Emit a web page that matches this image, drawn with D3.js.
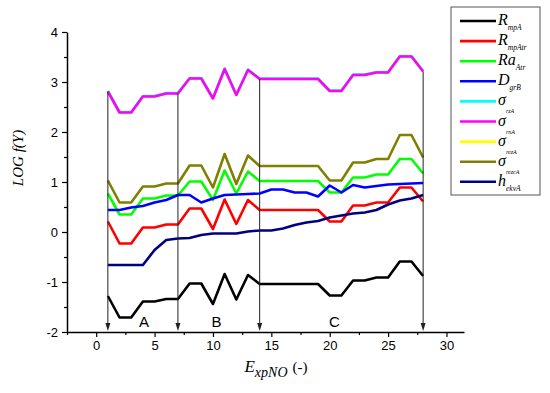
<!DOCTYPE html>
<html>
<head>
<meta charset="utf-8">
<script src="https://cdn.jsdelivr.net/npm/d3@7"></script>
<style>
  body { margin: 0; background: #fff; }
  svg { display: block; }
</style>
</head>
<body>
<div id="graph"></div>
<script>
// experiment number on the x axis
const xs = [1, 2, 3, 4, 5, 6, 7, 8, 9, 10, 11, 12, 13, 14, 15, 16, 17, 18, 19, 20, 21, 22, 23, 24, 25, 26, 27, 28];

// LOG f(Y) values
const rmpA   = [-1.28, -1.71, -1.71, -1.39, -1.39, -1.34, -1.34, -1.03, -1.03, -1.44, -0.84, -1.35, -0.86, -1.04, -1.04, -1.04, -1.04, -1.04, -1.04, -1.27, -1.27, -0.97, -0.97, -0.91, -0.91, -0.59, -0.59, -0.88];
const rmpAtr = [0.21, -0.23, -0.23, 0.09, 0.09, 0.15, 0.15, 0.47, 0.47, 0.06, 0.65, 0.16, 0.64, 0.44, 0.44, 0.44, 0.44, 0.44, 0.44, 0.21, 0.21, 0.53, 0.53, 0.59, 0.59, 0.89, 0.89, 0.61];
const raAtr  = [0.77, 0.35, 0.35, 0.67, 0.67, 0.73, 0.73, 1.01, 1.01, 0.64, 1.23, 0.77, 1.21, 1.02, 1.02, 1.02, 1.02, 1.02, 1.02, 0.79, 0.79, 1.09, 1.09, 1.15, 1.15, 1.46, 1.46, 1.17];
const dgrB   = [0.44, 0.44, 0.49, 0.52, 0.59, 0.64, 0.74, 0.74, 0.59, 0.67, 0.74, 0.75, 0.76, 0.77, 0.85, 0.85, 0.79, 0.79, 0.71, 0.93, 0.79, 0.94, 0.89, 0.92, 0.95, 0.96, 0.97, 0.98];
const sigRz  = [2.82, 2.40, 2.40, 2.72, 2.72, 2.78, 2.78, 3.08, 3.08, 2.68, 3.27, 2.75, 3.25, 3.07, 3.07, 3.07, 3.07, 3.07, 3.07, 2.83, 2.83, 3.15, 3.15, 3.20, 3.20, 3.52, 3.52, 3.22];
const sigRn  = [2.81, 2.39, 2.39, 2.71, 2.71, 2.77, 2.77, 3.07, 3.07, 2.67, 3.26, 2.74, 3.24, 3.06, 3.06, 3.06, 3.06, 3.06, 3.06, 2.82, 2.82, 3.14, 3.14, 3.19, 3.19, 3.51, 3.51, 3.21];
const sigRez = [2.81, 2.39, 2.39, 2.71, 2.71, 2.77, 2.77, 3.07, 3.07, 2.67, 3.26, 2.74, 3.24, 3.06, 3.06, 3.06, 3.06, 3.06, 3.06, 2.82, 2.82, 3.14, 3.14, 3.19, 3.19, 3.51, 3.51, 3.21];
const sigRezc = [1.03, 0.59, 0.59, 0.91, 0.91, 0.97, 0.97, 1.33, 1.33, 0.89, 1.56, 0.96, 1.53, 1.32, 1.32, 1.32, 1.32, 1.32, 1.32, 1.03, 1.03, 1.39, 1.39, 1.46, 1.46, 1.94, 1.94, 1.49];
const hekvA  = [-0.66, -0.66, -0.66, -0.66, -0.36, -0.16, -0.13, -0.12, -0.06, -0.03, -0.03, -0.03, 0.01, 0.03, 0.03, 0.07, 0.14, 0.19, 0.22, 0.29, 0.33, 0.37, 0.39, 0.44, 0.55, 0.63, 0.67, 0.74];

// region boundaries and labels
const boundaries = [1, 7, 14, 28];
const regionLabels = ["A", "B", "C"];
const regionLabelX = [4.1, 10.3, 20.4];
const regionLabelY = -1.79;

const xTicks = [0, 5, 10, 15, 20, 25, 30];
const xMinor = [-2.5, 2.5, 7.5, 12.5, 17.5, 22.5, 27.5];
const yTicks = [-2, -1, 0, 1, 2, 3, 4];
const yMinor = [-1.5, -0.5, 0.5, 1.5, 2.5, 3.5];

// legend entries
const series = [
  { main: "R",  sub: "mpA",   color: "#000000", values: rmpA,   order: 0 },
  { main: "R",  sub: "mpAtr", color: "#ff0000", values: rmpAtr, order: 1 },
  { main: "Ra", sub: "Atr",   color: "#00ff00", values: raAtr,  order: 2 },
  { main: "D",  sub: "grB",   color: "#0000ff", values: dgrB,   order: 3 },
  { main: "σ",  sub: "rzA",   color: "#00ffff", values: sigRz,  order: 5 },
  { main: "σ",  sub: "rnA",   color: "#ff00ff", values: sigRn,  order: 6 },
  { main: "σ",  sub: "rezA",  color: "#ffff00", values: sigRez, order: 4 },
  { main: "σ",  sub: "rezcA", color: "#808000", values: sigRezc, order: 7 },
  { main: "h",  sub: "ekvA",  color: "#000080", values: hekvA,  order: 8 }
];

const W = 550, H = 393;
const svg = d3.select("#graph").append("svg")
  .attr("width", W).attr("height", H);

const xScale = d3.scaleLinear().domain([-2.5, 31.5]).range([67, 464]);
const yScale = d3.scaleLinear().domain([-2, 4]).range([332, 32]);

const sans = "'Liberation Sans', Arial, sans-serif";
const serif = "'Liberation Serif', 'Times New Roman', serif";

// series lines
const line = d3.line()
  .x((d, i) => xScale(xs[i]))
  .y(d => yScale(d));

const drawOrder = series.slice().sort((a, b) => a.order - b.order);
svg.append("g").selectAll("path")
  .data(drawOrder)
  .join("path")
  .attr("d", d => line(d.values))
  .attr("fill", "none")
  .attr("stroke", d => d.color)
  .attr("stroke-width", 2.6)
  .attr("stroke-linejoin", "round");

// boundary arrows, from the top line down to the axis
const arrows = svg.append("g").selectAll("g")
  .data(boundaries)
  .join("g");
arrows.append("line")
  .attr("x1", d => xScale(d))
  .attr("x2", d => xScale(d))
  .attr("y1", d => yScale(sigRn[xs.indexOf(d)]))
  .attr("y2", yScale(-2) - 4)
  .attr("stroke", "#222")
  .attr("stroke-width", 1);
arrows.append("path")
  .attr("d", d => {
    const x = xScale(d), y = yScale(-2) - 1;
    return "M" + (x - 2.5) + "," + (y - 8) + " L" + x + "," + y + " L" + (x + 2.5) + "," + (y - 8) + " Z";
  })
  .attr("fill", "#222");

svg.append("g").selectAll("text")
  .data(regionLabels)
  .join("text")
  .attr("x", (d, i) => xScale(regionLabelX[i]))
  .attr("y", yScale(regionLabelY))
  .attr("text-anchor", "middle")
  .attr("dominant-baseline", "central")
  .attr("font-family", sans)
  .attr("font-size", 15)
  .text(d => d);

// axes
const fmt = d => d3.format("d")(d).replace("−", "-");
svg.append("g")
  .attr("transform", "translate(0," + yScale(-2) + ")")
  .call(d3.axisBottom(xScale).tickValues(xTicks).tickFormat(fmt).tickSize(5).tickPadding(4).tickSizeOuter(0));
svg.append("g")
  .attr("transform", "translate(0," + yScale(-2) + ")")
  .call(d3.axisBottom(xScale).tickValues(xMinor).tickSize(3).tickFormat("").tickSizeOuter(0))
  .select(".domain").remove();

svg.append("g")
  .attr("transform", "translate(" + xScale(-2.5) + ",0)")
  .call(d3.axisLeft(yScale).tickValues(yTicks).tickFormat(fmt).tickSize(5).tickPadding(4).tickSizeOuter(0));
svg.append("g")
  .attr("transform", "translate(" + xScale(-2.5) + ",0)")
  .call(d3.axisLeft(yScale).tickValues(yMinor).tickSize(3).tickFormat("").tickSizeOuter(0))
  .select(".domain").remove();

svg.selectAll(".domain").attr("stroke", "#000").attr("stroke-width", 1.5);
svg.selectAll(".tick line").attr("stroke", "#000").attr("stroke-width", 1.2);
svg.selectAll(".tick text").attr("font-family", sans).attr("font-size", 13).attr("fill", "#000");

// axis titles
svg.append("text")
  .attr("transform", "translate(23,158) rotate(-90)")
  .attr("text-anchor", "middle")
  .attr("font-family", serif)
  .attr("font-style", "italic")
  .attr("font-size", 15)
  .text("LOG f(Y)");

const xt = svg.append("text")
  .attr("x", 276).attr("y", 372)
  .attr("text-anchor", "middle")
  .attr("font-family", serif)
  .attr("font-size", 17);
xt.append("tspan").attr("font-style", "italic").text("E");
xt.append("tspan").attr("font-style", "italic").attr("font-size", 14).attr("dy", 5).text("xpNO");
xt.append("tspan").attr("dy", -5).attr("dx", 5).attr("font-size", 15).text("(-)");

// legend
const lg = svg.append("g");
lg.append("rect")
  .attr("x", 451).attr("y", 7).attr("width", 89).attr("height", 188)
  .attr("fill", "#fff").attr("stroke", "#555").attr("stroke-width", 1);

const rows = lg.selectAll("g.row")
  .data(series)
  .join("g")
  .attr("class", "row")
  .attr("transform", (d, i) => "translate(0," + (21 + i * 20.1) + ")");

rows.append("line")
  .attr("x1", 460).attr("x2", 496)
  .attr("stroke", d => d.color)
  .attr("stroke-width", 2.6);

const lt = rows.append("text")
  .attr("x", 498).attr("y", 4)
  .attr("font-family", serif)
  .attr("font-style", "italic")
  .attr("font-size", 16);
lt.append("tspan").text(d => d.main);
lt.append("tspan")
  .attr("font-size", d => d.main === "σ" ? 6 : 7.5)
  .attr("dy", d => d.main === "σ" ? 8 : 5)
  .text(d => d.sub);
</script>
</body>
</html>
